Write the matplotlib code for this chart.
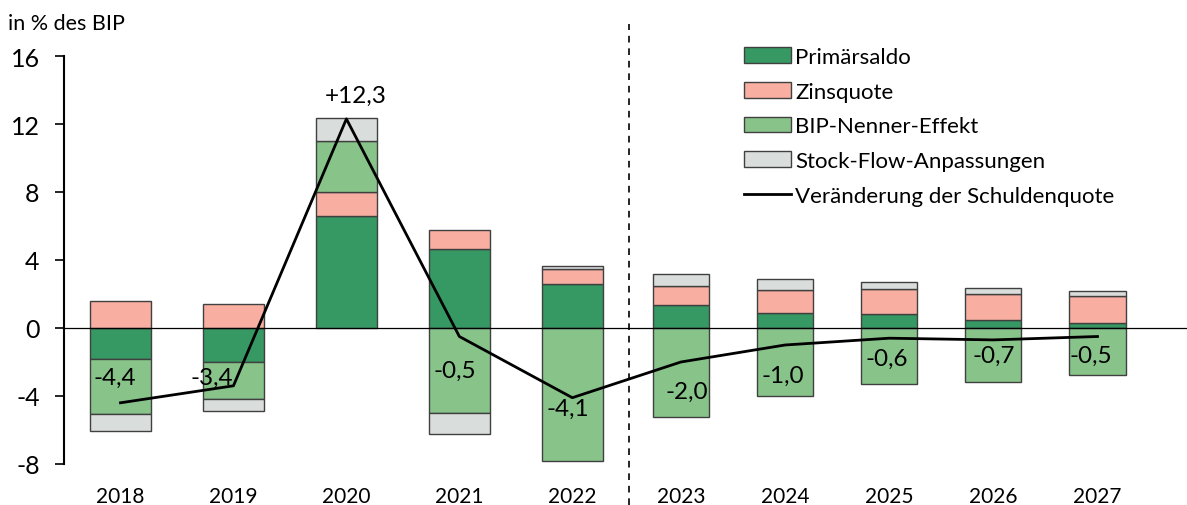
"""Schuldenquote: Zerlegung der Veränderung in Beiträge."""
import matplotlib.pyplot as plt
import matplotlib.patches as mpatches
from matplotlib.lines import Line2D
import numpy as np

plt.rcParams['font.family'] = ['Lato', 'DejaVu Sans']

# Data (in % des BIP)
years = ['2018', '2019', '2020', '2021', '2022',
         '2023', '2024', '2025', '2026', '2027']
primaersaldo = [-1.8, -2.0, 6.6, 4.65, 2.6, 1.35, 0.9, 0.85, 0.5, 0.3]
zinsquote = [1.6, 1.4, 1.4, 1.1, 0.9, 1.1, 1.35, 1.45, 1.5, 1.6]
bip_nenner = [-3.25, -2.2, 3.0, -5.0, -7.8, -5.25, -4.0, -3.3, -3.15, -2.75]
stock_flow = [-1.0, -0.7, 1.35, -1.25, 0.15, 0.75, 0.65, 0.4, 0.35, 0.3]
veraenderung = [-4.4, -3.4, 12.3, -0.5, -4.1, -2.0, -1.0, -0.6, -0.7, -0.5]
labels = ['-4,4', '-3,4', '+12,3', '-0,5', '-4,1',
          '-2,0', '-1,0', '-0,6', '-0,7', '-0,5']

# label offsets relative to the line point (x in categories, y in % des BIP)
label_dx = [-0.05, -0.19, 0.08, -0.04, -0.04, 0.05, -0.02, -0.02, 0.0, -0.06]
label_dy = [1.5, 0.5, 1.4, -2.0, -0.6, -1.7, -1.8, -1.2, -0.9, -1.1]

series = [
    ('Primärsaldo', primaersaldo, '#369964'),
    ('Zinsquote', zinsquote, '#f8aea1'),
    ('BIP-Nenner-Effekt', bip_nenner, '#88c48a'),
    ('Stock-Flow-Anpassungen', stock_flow, '#d9dddb'),
]

# the forecast years (from 2023) are drawn a bit narrower
n_hist = 5
step_fc = 0.922
x = np.concatenate([np.arange(n_hist),
                    n_hist - 0.5 + step_fc * (0.5 + np.arange(len(years) - n_hist))])
widths = np.array([0.54] * n_hist + [0.54 * step_fc] * (len(years) - n_hist))

fig = plt.figure(figsize=(11.87, 5.06), dpi=100)
ax = fig.add_axes([64 / 1187, 41 / 506, 1 - 64 / 1187, 408 / 506])

pos_base = np.zeros(len(years))
neg_base = np.zeros(len(years))
for name, vals, color in series:
    vals = np.array(vals)
    bottom = np.where(vals >= 0, pos_base, neg_base)
    ax.bar(x, vals, widths, bottom=bottom, color=color,
           edgecolor='#404040', linewidth=1.0, zorder=2)
    pos_base += np.where(vals >= 0, vals, 0)
    neg_base += np.where(vals < 0, vals, 0)

ax.axhline(0, color='black', linewidth=0.9, zorder=3)
ax.plot(x, veraenderung, color='black', linewidth=2.0, zorder=4)

for xi, yi, txt, dx, dy in zip(x, veraenderung, labels, label_dx, label_dy):
    ax.text(xi + dx, yi + dy, txt, ha='center', va='center', fontsize=17.5, zorder=5)

# separator between actual and forecast years
ax.axvline(n_hist - 0.5, ymin=-0.1, ymax=1.078, color='black', linewidth=1.2,
           linestyle=(0, (4, 3.5)), clip_on=False, zorder=1)

ax.set_xlim(-0.5, (1187 - 122) / 112.8)
ax.set_ylim(-8, 16)
ax.set_yticks(range(-8, 17, 4))
ax.set_yticklabels([str(v) for v in range(-8, 17, 4)], fontsize=18)
ax.set_xticks(x)
ax.set_xticklabels(years, fontsize=15)
ax.tick_params(axis='x', length=0, pad=16)
ax.tick_params(axis='y', length=6.5, width=1.2, pad=11, direction='out')
for side in ['top', 'right', 'bottom']:
    ax.spines[side].set_visible(False)
ax.spines['left'].set_linewidth(1.5)

fig.text(8 / 1187, 1 - 24 / 506, 'in % des BIP', fontsize=15.5, va='center', ha='left')

handles = [mpatches.Patch(facecolor=c, edgecolor='#404040', linewidth=1.0, label=n)
           for n, _, c in series]
handles.append(Line2D([], [], color='black', linewidth=2.0,
                      label='Veränderung der Schuldenquote'))
fig.legend(handles=handles, loc='upper left',
           bbox_to_anchor=(735 / 1187, 1 - 39 / 506), frameon=False,
           fontsize=16, handlelength=2.1, handletextpad=0.22,
           labelspacing=0.66, borderaxespad=0)

plt.savefig('out.png', dpi=100)
plt.close()
